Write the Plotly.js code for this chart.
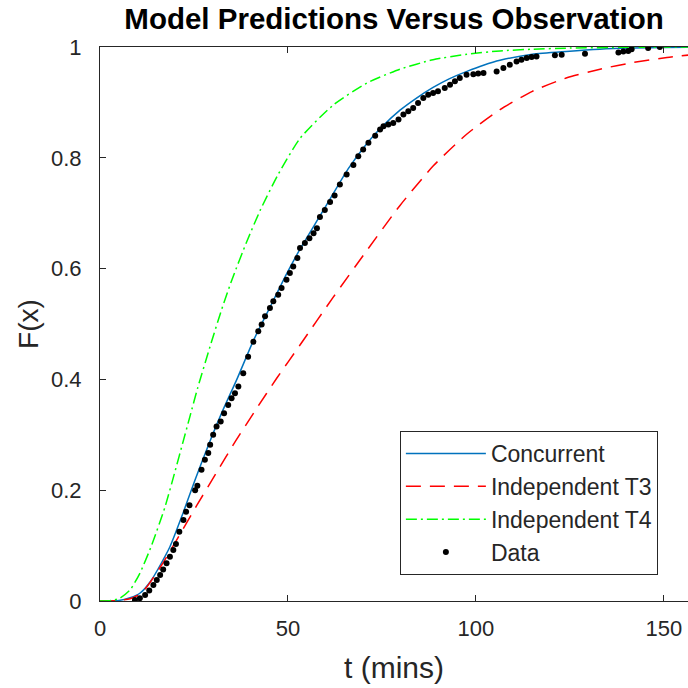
<!DOCTYPE html>
<html>
<head>
<meta charset="utf-8">
<script src="https://cdn.plot.ly/plotly-3.0.1.min.js"></script>
<style>
html,body{margin:0;padding:0;background:#fff;overflow:hidden;}
#chart{width:688px;height:688px;}
</style>
</head>
<body>
<div id="chart"></div>
<script>
// Concurrent model curve
const concT = [0,5,8,10.6,13.7,18.6,22.1,25.3,28.7,32.4,36.4,40.8,45.2,49.6,53.2,58.5,62,66,71,75,79.8,84,88.6,93,97.6,102,106.4,115,124,133,142,150,160];
const concF = [0,0.001,0.006,0.014,0.038,0.098,0.159,0.219,0.279,0.340,0.400,0.470,0.530,0.590,0.635,0.695,0.735,0.780,0.826,0.856,0.886,0.907,0.927,0.943,0.956,0.967,0.976,0.987,0.992,0.996,0.998,0.999,1.0];
// Independent T3 model curve
const t3T = [0,5,8,10,12.4,16.4,20.8,25.7,31,36,41.6,47,53.2,62,71,79.8,88.6,97.6,106.4,115,124,133,141.8,150.8,160];
const t3F = [0,0.001,0.004,0.010,0.025,0.065,0.115,0.172,0.232,0.288,0.347,0.402,0.462,0.548,0.633,0.714,0.785,0.843,0.887,0.920,0.944,0.960,0.972,0.981,0.988];
// Independent T4 model curve
const t4T = [0,3,5.3,8,10.6,13.7,17.3,20,22,24,26,29.3,32.4,35.1,39,42.6,47.4,53.2,62,71,79.8,88.6,97.6,106.4,115,125,140,160];
const t4F = [0,0.001,0.005,0.020,0.050,0.100,0.170,0.235,0.285,0.335,0.385,0.460,0.527,0.580,0.648,0.705,0.770,0.835,0.895,0.935,0.960,0.977,0.987,0.993,0.996,0.998,0.9995,1.0];
// Observed data
const dataT = [9.3,10.6,12.0,13.1,14.2,15.1,16.0,16.8,17.7,18.6,19.5,20.2,21.1,22.2,22.9,23.8,25.3,25.9,27.0,27.9,28.8,29.3,30.1,31.0,32.1,33.0,34.1,35.0,35.9,36.8,38.1,39.4,40.8,42.1,43.0,43.9,45.2,46.1,47.4,48.3,49.6,50.5,51.4,52.5,53.2,54.5,55.7,56.8,57.7,58.5,59.8,61.2,62.4,63.8,65.6,67.4,68.7,70.0,71.4,73.2,74.5,75.4,76.7,78.0,79.4,80.7,82.0,83.3,84.6,86.0,87.3,88.6,89.9,91.7,93.1,94.4,95.7,97.5,99.3,100.6,102.0,105.5,107.3,109.0,110.8,112.1,113.5,114.8,116.1,121.0,122.8,129.0,137.9,139.2,140.5,141.4,145.8,148.9];
const dataF = [0.002,0.005,0.011,0.019,0.029,0.038,0.047,0.057,0.068,0.080,0.092,0.103,0.125,0.146,0.161,0.173,0.200,0.208,0.237,0.255,0.267,0.282,0.300,0.315,0.324,0.339,0.354,0.366,0.375,0.387,0.411,0.441,0.468,0.487,0.499,0.514,0.529,0.541,0.553,0.565,0.580,0.592,0.604,0.619,0.637,0.646,0.655,0.664,0.673,0.693,0.706,0.720,0.732,0.752,0.770,0.787,0.803,0.815,0.827,0.840,0.851,0.857,0.860,0.863,0.869,0.878,0.884,0.890,0.899,0.908,0.914,0.917,0.920,0.926,0.932,0.938,0.944,0.950,0.951,0.952,0.953,0.956,0.962,0.968,0.974,0.977,0.980,0.982,0.983,0.985,0.986,0.988,0.990,0.992,0.993,0.996,0.998,1.0];

const xTicks = [0,50,100,150];
const xTickText = ['0','50','100','150'];
const yTicks = [0,0.2,0.4,0.6,0.8,1];
const yTickText = ['0','0.2','0.4','0.6','0.8','1'];

const FONT = 'Liberation Sans, Arial, Helvetica, sans-serif';
const AX = '#262626';

const traces = [
  {x: concT, y: concF, type:'scatter', mode:'lines', name:'Concurrent',
   line:{color:'#0072BD', width:1.5, shape:'spline', smoothing:0.6}},
  {x: t3T, y: t3F, type:'scatter', mode:'lines', name:'Independent T3',
   line:{color:'#FF0000', width:1.5, dash:'15px,9px', shape:'spline', smoothing:0.6}},
  {x: t4T, y: t4F, type:'scatter', mode:'lines', name:'Independent T4',
   line:{color:'#00FF00', width:1.5, dash:'11px,4px,2px,4px', shape:'spline', smoothing:0.6}},
  {x: dataT, y: dataF, type:'scatter', mode:'markers', name:'Data',
   marker:{color:'#000000', size:6, symbol:'circle'}}
];

const layout = {
  width: 688, height: 688,
  margin: {l:100, r:0, t:47, b:87},
  paper_bgcolor:'#ffffff', plot_bgcolor:'#ffffff',
  font: {family: FONT, color: AX, size: 22},
  title: {text:'<b>Model Predictions Versus Observation</b>', font:{family:FONT, size:29.5, color:'#000000'},
          x:0.5, xref:'paper', y:1-19/688, yref:'container', yanchor:'middle'},
  xaxis: {range:[0,156.4], tickvals:xTicks, ticktext:xTickText, ticks:'inside', ticklen:6,
          tickcolor:AX, showline:true, linecolor:AX, linewidth:1, mirror:'allticks',
          showgrid:false, zeroline:false, tickfont:{size:22, color:AX}, ticklabelstandoff:8,
          title:{text:'t (mins)', font:{size:30, color:AX}, standoff:16}},
  yaxis: {range:[0,1], tickvals:yTicks, ticktext:yTickText, ticks:'inside', ticklen:6,
          tickcolor:AX, showline:true, linecolor:AX, linewidth:1, mirror:false,
          showgrid:false, zeroline:false, tickfont:{size:22, color:AX}, ticklabelstandoff:13,
          title:{text:'F(x)', font:{size:28, color:AX}, standoff:4}},
  showlegend: true,
  legend: {x:0.51, xanchor:'left', y:0.047, yanchor:'bottom', bgcolor:'#ffffff',
           bordercolor:AX, borderwidth:1, font:{size:23, color:AX}, itemwidth:80}
};

Plotly.newPlot('chart', traces, layout, {displayModeBar:false, staticPlot:true});
</script>
</body>
</html>
